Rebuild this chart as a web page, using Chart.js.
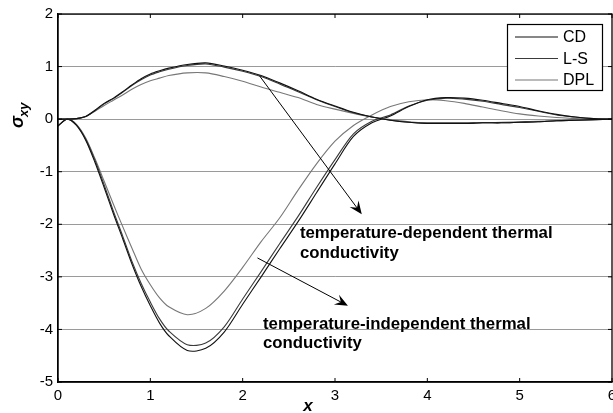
<!DOCTYPE html>
<html>
<head>
<meta charset="utf-8">
<script src="https://cdn.jsdelivr.net/npm/chart.js@4.4.1/dist/chart.umd.min.js"></script>
<style>
  body { margin: 0; background: #fff; }
  canvas { display: block; }
</style>
</head>
<body>
<canvas id="sigmaChart" width="613" height="413"></canvas>
<script>
// x positions shared by every curve
const xs = [0, 0.1, 0.2, 0.3, 0.4, 0.5, 0.6, 0.7, 0.8, 0.9, 1.0, 1.1, 1.2, 1.4, 1.6, 1.8, 2.0, 2.2, 2.4, 2.6,
            2.8, 3.0, 3.2, 3.4, 3.6, 3.8, 4.0, 4.2, 4.4, 4.6, 4.8, 5.0, 5.2, 5.4, 5.6, 5.8, 6.0];

// temperature-dependent thermal conductivity (upper curves)
const cdDep  = [0, 0, 0.01, 0.05, 0.17, 0.30, 0.40, 0.52, 0.65, 0.77, 0.86, 0.92, 0.97, 1.04, 1.07, 1.01, 0.93, 0.83, 0.69, 0.54,
                0.38, 0.25, 0.13, 0.04, -0.02, -0.06, -0.08, -0.08, -0.08, -0.07, -0.07, -0.06, -0.05, -0.03, -0.02, -0.01, 0];
const lsDep  = [0, 0, 0.01, 0.05, 0.16, 0.29, 0.39, 0.51, 0.64, 0.75, 0.84, 0.90, 0.95, 1.02, 1.05, 0.99, 0.91, 0.81, 0.67, 0.52,
                0.37, 0.24, 0.12, 0.04, -0.02, -0.06, -0.08, -0.08, -0.08, -0.07, -0.07, -0.06, -0.05, -0.03, -0.02, -0.01, 0];
const dplDep = [0, 0, 0.01, 0.05, 0.15, 0.26, 0.36, 0.46, 0.57, 0.66, 0.73, 0.78, 0.83, 0.88, 0.88, 0.81, 0.72, 0.61, 0.51, 0.41,
                0.28, 0.19, 0.11, 0.04, -0.01, -0.05, -0.07, -0.07, -0.07, -0.07, -0.06, -0.05, -0.04, -0.03, -0.02, -0.01, 0];

// temperature-independent thermal conductivity (lower curves)
const cdInd  = [-0.13, 0, -0.12, -0.40, -0.82, -1.30, -1.80, -2.27, -2.75, -3.18, -3.55, -3.88, -4.12, -4.40, -4.36, -4.05, -3.52, -3.00, -2.47, -1.95,
                -1.40, -0.85, -0.33, -0.07, 0.06, 0.24, 0.37, 0.41, 0.40, 0.36, 0.30, 0.24, 0.16, 0.09, 0.04, 0.01, 0];
const lsInd  = [-0.13, 0, -0.11, -0.38, -0.78, -1.25, -1.75, -2.22, -2.70, -3.12, -3.48, -3.80, -4.03, -4.29, -4.26, -3.95, -3.42, -2.90, -2.37, -1.85,
                -1.30, -0.77, -0.28, -0.04, 0.08, 0.25, 0.36, 0.40, 0.38, 0.34, 0.28, 0.22, 0.15, 0.08, 0.04, 0.01, 0];
const dplInd = [-0.13, 0, -0.10, -0.36, -0.75, -1.18, -1.62, -2.04, -2.45, -2.85, -3.15, -3.40, -3.57, -3.72, -3.60, -3.27, -2.82, -2.33, -1.88, -1.35,
                -0.85, -0.42, -0.12, 0.08, 0.24, 0.33, 0.37, 0.35, 0.30, 0.23, 0.16, 0.10, 0.06, 0.03, 0.01, 0, 0];

const xTicks = [0, 1, 2, 3, 4, 5, 6];
const yTicks = [-5, -4, -3, -2, -1, 0, 1, 2];

const legendNames = ['CD', 'L-S', 'DPL'];
const colors = ['#111', '#3a3a3a', '#777'];

function pts(ys) {
  return xs.map((x, i) => ({ x: x, y: ys[i] }));
}

function line(label, ys, color) {
  return {
    label: label,
    data: pts(ys),
    borderColor: color,
    borderWidth: 1.1,
    pointRadius: 0,
    tension: 0.3,
    fill: false
  };
}

const datasets = [
  line('CD', cdDep, colors[0]),
  line('L-S', lsDep, colors[1]),
  line('DPL', dplDep, colors[2]),
  line('CD', cdInd, colors[0]),
  line('L-S', lsInd, colors[1]),
  line('DPL', dplInd, colors[2])
];

function arrow(ctx, x1, y1, x2, y2) {
  const a = Math.atan2(y2 - y1, x2 - x1);
  ctx.beginPath();
  ctx.moveTo(x1, y1);
  ctx.lineTo(x2 - 6 * Math.cos(a), y2 - 6 * Math.sin(a));
  ctx.stroke();
  const len = 13, half = 5.5;
  const bx = x2 - len * Math.cos(a), by = y2 - len * Math.sin(a);
  const nx = x2 - 8 * Math.cos(a), ny = y2 - 8 * Math.sin(a);
  ctx.beginPath();
  ctx.moveTo(x2, y2);
  ctx.lineTo(bx + half * Math.sin(a), by - half * Math.cos(a));
  ctx.lineTo(nx, ny);
  ctx.lineTo(bx - half * Math.sin(a), by + half * Math.cos(a));
  ctx.closePath();
  ctx.fill();
}

const extras = {
  id: 'extras',
  afterDatasetsDraw(chart) {
    const ctx = chart.ctx;
    const xs_ = chart.scales.x, ys_ = chart.scales.y;
    const ca = chart.chartArea;
    const px = (x, y) => [xs_.getPixelForValue(x), ys_.getPixelForValue(y)];

    ctx.save();
    // frame
    ctx.strokeStyle = '#000';
    ctx.lineWidth = 1.3;
    ctx.strokeRect(ca.left, ca.top, ca.right - ca.left, ca.bottom - ca.top);

    // inward ticks
    ctx.lineWidth = 1;
    ctx.beginPath();
    xTicks.forEach(v => {
      const p = xs_.getPixelForValue(v);
      ctx.moveTo(p, ca.top); ctx.lineTo(p, ca.top + 4);
      ctx.moveTo(p, ca.bottom); ctx.lineTo(p, ca.bottom - 4);
    });
    yTicks.forEach(v => {
      const p = ys_.getPixelForValue(v);
      ctx.moveTo(ca.left, p); ctx.lineTo(ca.left + 4, p);
      ctx.moveTo(ca.right, p); ctx.lineTo(ca.right - 4, p);
    });
    ctx.stroke();

    // legend box
    const lx = 507, ly = 24, lw = 95, lh = 66;
    ctx.fillStyle = '#fff';
    ctx.fillRect(lx, ly, lw, lh);
    ctx.strokeStyle = '#000';
    ctx.lineWidth = 1.2;
    ctx.strokeRect(lx + 0.5, ly + 0.5, lw, lh);
    ctx.font = '16px "Liberation Sans", Arial, sans-serif';
    ctx.textBaseline = 'middle';
    ctx.textAlign = 'left';
    legendNames.forEach((name, i) => {
      const yy = ly + 13 + i * 21.5;
      ctx.strokeStyle = colors[i];
      ctx.lineWidth = 1.1;
      ctx.beginPath();
      ctx.moveTo(515, yy); ctx.lineTo(558, yy);
      ctx.stroke();
      ctx.fillStyle = '#000';
      ctx.fillText(name, 563, yy + 1);
    });

    // annotations
    ctx.strokeStyle = '#000';
    ctx.fillStyle = '#000';
    ctx.lineWidth = 1;
    let a = px(2.18, 0.83), b = px(3.29, -1.81);
    arrow(ctx, a[0], a[1], b[0], b[1]);
    a = px(2.16, -2.64); b = px(3.14, -3.55);
    arrow(ctx, a[0], a[1], b[0], b[1]);

    ctx.font = 'bold 16.8px "Liberation Sans", Arial, sans-serif';
    ctx.textBaseline = 'alphabetic';
    let t = px(2.62, -2.27);
    ctx.fillText('temperature-dependent thermal', t[0], t[1]);
    ctx.fillText('conductivity', t[0], t[1] + 19.5);
    t = px(2.22, -3.99);
    ctx.fillText('temperature-independent thermal', t[0], t[1]);
    ctx.fillText('conductivity', t[0], t[1] + 19);

    // axis titles
    ctx.font = 'bold italic 17px "Liberation Sans", Arial, sans-serif';
    ctx.textAlign = 'center';
    ctx.fillText('x', 308, 411);

    ctx.translate(23, 112);
    ctx.rotate(-Math.PI / 2);
    ctx.textAlign = 'left';
    ctx.font = 'bold italic 18px "Liberation Sans", Arial, sans-serif';
    ctx.fillText('σ', -16, 0);
    ctx.font = 'bold italic 13px "Liberation Sans", Arial, sans-serif';
    ctx.fillText('xy', -5, 5);
    ctx.restore();
  }
};

const chart = new Chart(document.getElementById('sigmaChart').getContext('2d'), {
  type: 'line',
  data: { datasets: datasets },
  options: {
    responsive: false,
    devicePixelRatio: 1,
    animation: false,
    layout: { autoPadding: false, padding: { left: 0, top: 14, right: 1, bottom: 0 } },
    plugins: { legend: { display: false }, tooltip: { enabled: false } },
    scales: {
      x: {
        type: 'linear',
        min: 0, max: 6,
        afterFit: s => { s.height = 31; s.paddingLeft = 0; s.paddingRight = 0; },
        afterBuildTicks: s => { s.ticks = xTicks.map(v => ({ value: v })); },
        grid: { display: false, drawTicks: false },
        border: { color: '#000', width: 1.3 },
        ticks: { color: '#000', padding: 5, font: { size: 15, family: '"Liberation Sans", Arial' }, maxRotation: 0 }
      },
      y: {
        min: -5, max: 2,
        afterFit: s => { s.width = 58; s.paddingTop = 0; s.paddingBottom = 0; },
        afterBuildTicks: s => { s.ticks = yTicks.map(v => ({ value: v })); },
        grid: { color: '#9a9a9a', lineWidth: 1, drawTicks: false },
        border: { color: '#000', width: 1.3 },
        ticks: { color: '#000', padding: 5, font: { size: 15, family: '"Liberation Sans", Arial' } }
      }
    }
  },
  plugins: [extras]
});
</script>
</body>
</html>
